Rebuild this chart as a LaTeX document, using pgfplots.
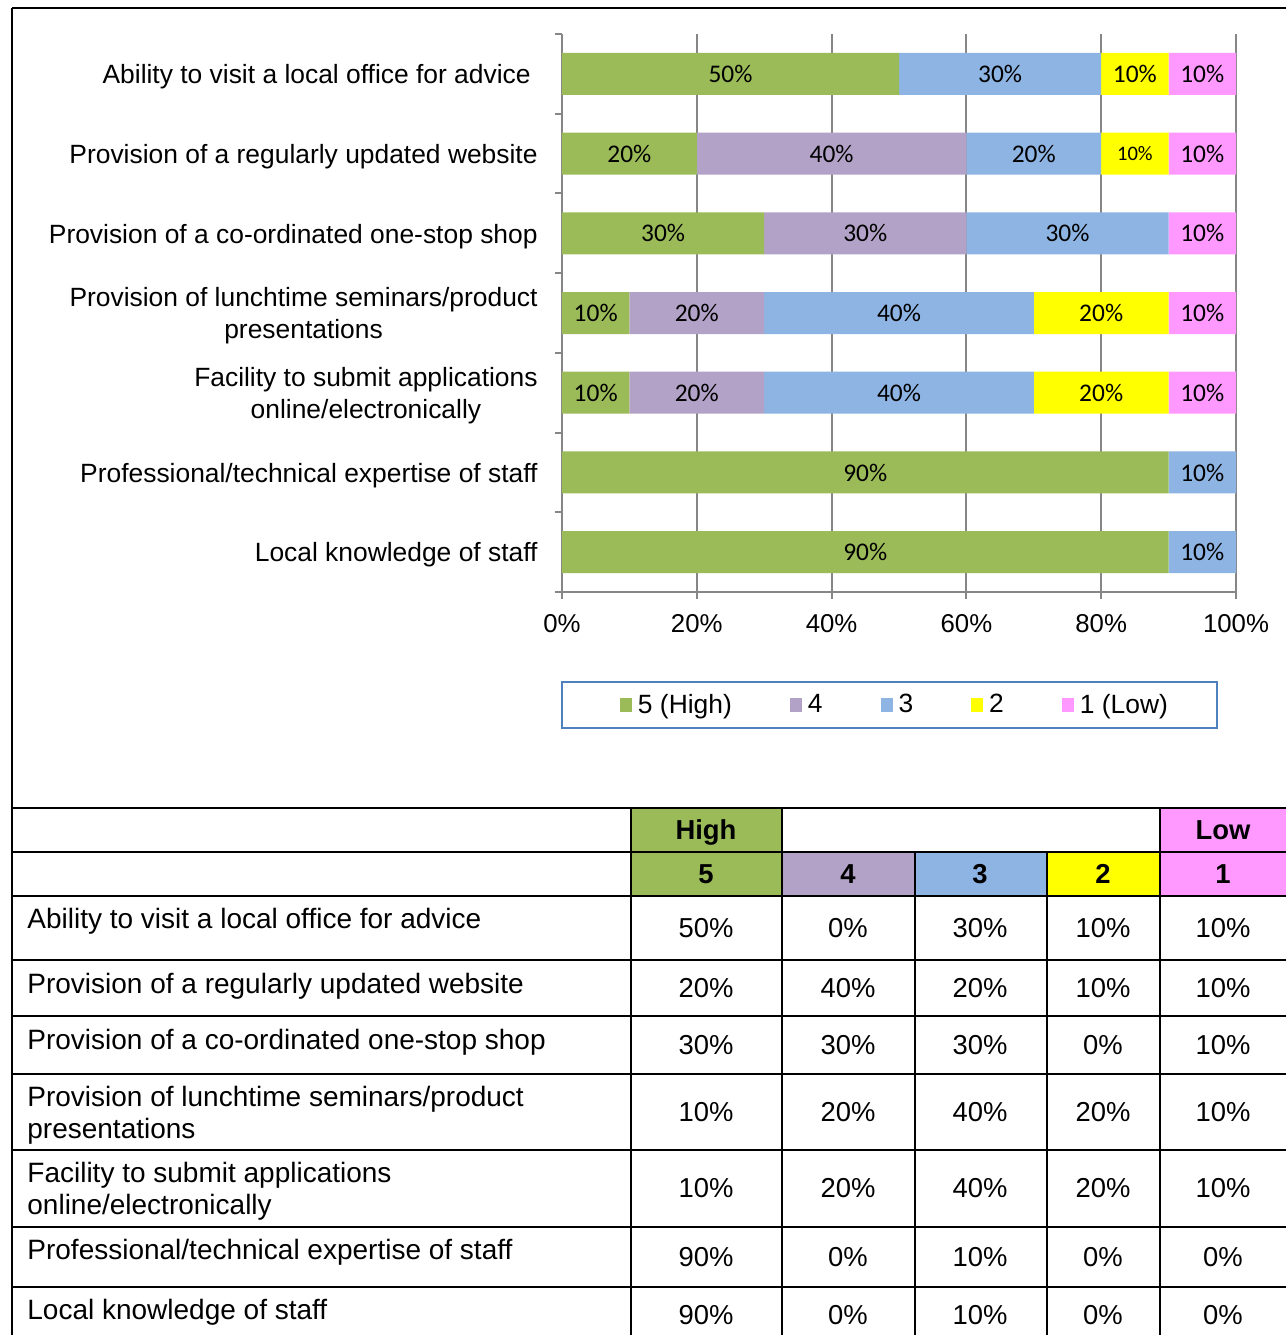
\documentclass[border=0pt]{standalone}
\usepackage{pgfplots}
\pgfplotsset{compat=1.18}
\usepackage{fontspec}
\setmainfont{Liberation Sans}
\newfontfamily\carlito{Carlito}
\definecolor{c5}{HTML}{9BBB59}
\definecolor{c4}{HTML}{B3A2C7}
\definecolor{c3}{HTML}{8EB4E3}
\definecolor{c2}{HTML}{FFFF00}
\definecolor{c1}{HTML}{FF99FF}
\definecolor{axgray}{HTML}{868686}
\definecolor{legblue}{HTML}{4F81BD}
\protected\def\smallten{{\fontsize{10.3}{12}\selectfont 10\%}}
\protected\def\pct#1{#1\%}
\begin{document}
\begin{tikzpicture}
\useasboundingbox (0,0) rectangle (643pt,-667.5pt);
\begin{axis}[
  at={(281pt,-296pt)}, anchor=south west,
  width=337pt, height=279pt, scale only axis,
  xbar stacked, bar width=21pt,
  xmin=0, xmax=100, ymin=0.5, ymax=7.5,
  axis x line*=bottom, axis y line*=left,
  axis line style={draw=axgray, line width=1pt},
  xtick={0,20,...,100},
  minor xtick={0,20,...,100},
  xticklabel={\pgfmathprintnumber{\tick}\%},
  /pgf/number format/assume math mode=true,
  ytick={1,...,7},
  minor ytick={0.5,1.5,...,7.5},
  yticklabels={Local knowledge of staff,
    Professional/technical expertise of staff,
    {Facility to submit applications\\online/electronically},
    {Provision of lunchtime seminars/product\\presentations},
    Provision of a co-ordinated one-stop shop,
    Provision of a regularly updated website,
    Ability to visit a local office for advice\hspace*{3.5pt}},
  tick align=outside,
  major tick length=0pt, minor tick length=3.5pt,
  tick style={draw=axgray, line width=1pt},
  xmajorgrids,
  major grid style={draw=axgray, line width=1pt},
  yticklabel style={font=\fontsize{13.2}{16}\selectfont, align=center, inner sep=0pt, xshift=-12pt, yshift=-1.5pt},
  xticklabel style={font=\fontsize{12.9}{16}\selectfont, inner sep=0pt, yshift=-11pt},
  point meta=explicit symbolic,
  nodes near coords,
  every node near coord/.append style={anchor=center, font=\carlito\fontsize{12.7}{15}\selectfont, text=black},
  legend columns=5,
  legend style={draw=none, fill=none, at={(0.4955,-0.2025)}, anchor=center,
    font=\fontsize{13.2}{16}\selectfont,
    nodes={inner xsep=3pt},
    /tikz/every even column/.append style={column sep=25pt}},
  legend image code/.code={\path (0pt,0pt); \path[#1,draw=none] (1pt,-3.5pt) rectangle (7pt,3.5pt);},
]
\addplot[fill=c5, draw=none] coordinates {(90,1)[\pct{90}] (90,2)[\pct{90}] (10,3)[\pct{10}] (10,4)[\pct{10}] (30,5)[\pct{30}] (20,6)[\pct{20}] (50,7)[\pct{50}]};
\addplot[fill=c4, draw=none] coordinates {(0,1)[ ] (0,2)[ ] (20,3)[\pct{20}] (20,4)[\pct{20}] (30,5)[\pct{30}] (40,6)[\pct{40}] (0,7)[ ]};
\addplot[fill=c3, draw=none] coordinates {(10,1)[\pct{10}] (10,2)[\pct{10}] (40,3)[\pct{40}] (40,4)[\pct{40}] (30,5)[\pct{30}] (20,6)[\pct{20}] (30,7)[\pct{30}]};
\addplot[fill=c2, draw=none] coordinates {(0,1)[ ] (0,2)[ ] (20,3)[\pct{20}] (20,4)[\pct{20}] (0,5)[ ] (10,6)[\smallten] (10,7)[\pct{10}]};
\addplot[fill=c1, draw=none] coordinates {(0,1)[ ] (0,2)[ ] (10,3)[\pct{10}] (10,4)[\pct{10}] (10,5)[\pct{10}] (10,6)[\pct{10}] (10,7)[\pct{10}]};
\legend{5 (High),4,3,2,1 (Low)}
\end{axis}
\begin{scope}[x=0.5pt,y=-0.5pt]
  \draw[legblue, line width=1pt] (562,682) rectangle (1217,728);
  % header fills
  \fill[c5] (631,808) rectangle (782,896);
  \fill[c1] (1160,808) rectangle (1290,896);
  \fill[c4] (782,852) rectangle (915,896);
  \fill[c3] (915,852) rectangle (1047,896);
  \fill[c2] (1047,852) rectangle (1160,896);
  \begin{scope}[line width=1.3pt, black]
    \draw (12,8) -- (1290,8);
    \draw (12,8) -- (12,1340);
    \foreach \yy in {808,852,896,960,1016,1074,1150,1227,1287}
      \draw (12,\yy) -- (1290,\yy);
    \foreach \xx in {631,782,1160}
      \draw (\xx,808) -- (\xx,1340);
    \foreach \xx in {915,1047}
      \draw (\xx,852) -- (\xx,1340);
  \end{scope}
  \begin{scope}[font=\fontsize{13.7}{16}\selectfont]
    \node[font=\fontsize{13.7}{16}\selectfont\bfseries] at (706,832) {High};
    \node[font=\fontsize{13.7}{16}\selectfont\bfseries] at (1223,830) {Low};
    \foreach \xx/\t in {706/5,848/4,980/3,1103/2,1223/1}
      \node[font=\fontsize{13.7}{16}\selectfont\bfseries] at (\xx,874) {\t};
    \begin{scope}[every node/.style={anchor=west, align=left, inner xsep=0pt, font=\fontsize{14}{16}\selectfont}]
    \node at (27,921) {Ability to visit a local office for advice};
    \node at (27,986) {Provision of a regularly updated website};
    \node at (27,1042) {Provision of a co-ordinated one-stop shop};
    \node at (27,1115) {Provision of lunchtime seminars/product\\presentations};
    \node at (27,1191) {Facility to submit applications\\online/electronically};
    \node at (27,1252) {Professional/technical expertise of staff};
    \node at (27,1312) {Local knowledge of staff};
    \end{scope}
    \foreach \yy/\a/\b/\c/\d/\e in {928/50/0/30/10/10, 988/20/40/20/10/10, 1045/30/30/30/0/10,
        1112/10/20/40/20/10, 1188/10/20/40/20/10, 1257/90/0/10/0/0, 1315/90/0/10/0/0} {
      \node at (706,\yy) {\a\%};
      \node at (848,\yy) {\b\%};
      \node at (980,\yy) {\c\%};
      \node at (1103,\yy) {\d\%};
      \node at (1223,\yy) {\e\%};
    }
  \end{scope}
\end{scope}
\end{tikzpicture}
\end{document}
